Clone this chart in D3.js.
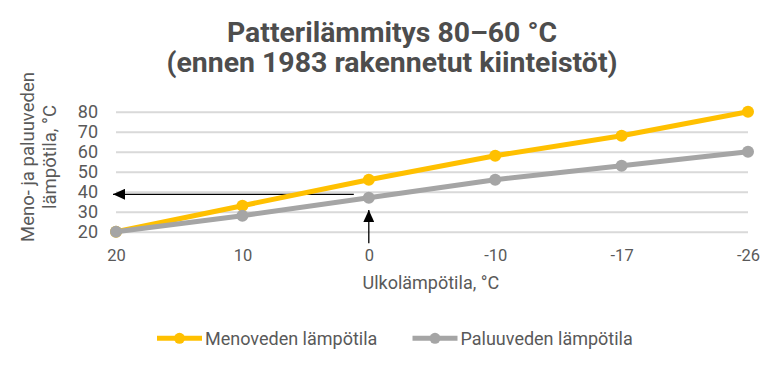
<!DOCTYPE html>
<html>
<head>
<meta charset="utf-8">
<script src="https://cdn.jsdelivr.net/npm/d3@7"></script>
<style>
  body { margin: 0; background: #fff; }
  #chart { width: 784px; height: 369px; }
  text { font-family: Roboto, "Open Sans", sans-serif; fill: #595959; }
</style>
</head>
<body>
<div id="chart"></div>
<script>

// ulkolämpötila (categories along x)
var outdoor = ["20", "10", "0", "-10", "-17", "-26"];
// menoveden ja paluuveden lämpötila
var supplyTemp = [20, 33, 46, 58, 68, 80];
var returnTemp = [20, 28, 37, 46, 53, 60];
var yTicks = [20, 30, 40, 50, 60, 70, 80];
var seriesNames = ["Menoveden lämpötila", "Paluuveden lämpötila"];
var seriesColors = ["#FFC000", "#A5A5A5"];

// arrow annotations (data units)
var arrowLevel = 38.7;
var arrowUpTo = 30.8;

LineChart = function(_parentElement){
  this.parentElement = _parentElement;
  this.initVis();
}

LineChart.prototype.initVis = function() {
  var vis = this;

  vis.margin = {top: 111.7, left: 116, bottom: 137.3, right: 36};
  vis.width = 784 - vis.margin.left - vis.margin.right;
  vis.height = 369 - vis.margin.top - vis.margin.bottom;

  vis.root = d3.select("#" + vis.parentElement).append("svg")
    .attr("width", 784)
    .attr("height", 369);

  vis.svg = vis.root.append("g")
    .attr("transform", "translate(" + vis.margin.left + "," + vis.margin.top + ")");

  vis.xScale = d3.scalePoint()
    .domain(outdoor)
    .range([0, vis.width]);

  vis.yScale = d3.scaleLinear()
    .domain([20, 80])
    .range([vis.height, 0]);

  vis.updateVis();
}

LineChart.prototype.updateVis = function() {
  var vis = this;

  // title
  var title = vis.root.append("g").attr("text-anchor", "middle");
  title.append("text")
    .attr("x", 392).attr("y", 41.7)
    .attr("textLength", 330).attr("lengthAdjust", "spacingAndGlyphs")
    .style("font-size", "27px").style("font-weight", "bold").style("fill", "#4d4d4d")
    .text("Patterilämmitys 80–60 °C");
  title.append("text")
    .attr("x", 392).attr("y", 71.7)
    .attr("textLength", 451).attr("lengthAdjust", "spacingAndGlyphs")
    .style("font-size", "27px").style("font-weight", "bold").style("fill", "#4d4d4d")
    .text("(ennen 1983 rakennetut kiinteistöt)");

  // y axis + gridlines
  var yAxis = vis.svg.append("g")
    .call(d3.axisLeft(vis.yScale).tickValues(yTicks).tickSize(-vis.width).tickPadding(18));
  yAxis.select(".domain").remove();
  yAxis.selectAll("line").attr("stroke", "#D9D9D9").attr("stroke-width", 2);
  yAxis.selectAll("text").style("font-size", "18px").style("fill", "#595959");

  // x axis
  var xAxis = vis.svg.append("g")
    .attr("transform", "translate(0," + vis.height + ")")
    .call(d3.axisBottom(vis.xScale).tickSize(0).tickPadding(18));
  xAxis.select(".domain").remove();
  xAxis.selectAll("text").style("font-size", "16.5px").style("fill", "#595959");

  // axis titles
  vis.svg.append("text")
    .attr("x", vis.xScale("0") + 62).attr("y", vis.height + 57.5)
    .attr("text-anchor", "middle")
    .style("font-size", "18px")
    .text("Ulkolämpötila, °C");

  var yTitle = vis.root.append("g")
    .attr("transform", "translate(0,157) rotate(-90)")
    .attr("text-anchor", "middle");
  yTitle.append("text").attr("x", 0).attr("y", 34).style("font-size", "18.5px").text("Meno- ja paluuveden");
  yTitle.append("text").attr("x", 0).attr("y", 56).style("font-size", "18.5px").text("lämpötila, °C");

  // arrows
  var defs = vis.root.append("defs");
  defs.append("marker")
    .attr("id", "arrowhead")
    .attr("viewBox", "0 0 12 11")
    .attr("refX", 12).attr("refY", 5.5)
    .attr("markerWidth", 12).attr("markerHeight", 11)
    .attr("markerUnits", "userSpaceOnUse")
    .attr("orient", "auto")
    .append("path")
    .attr("d", "M0,0 L12,5.5 L0,11 Z")
    .attr("fill", "#000");

  vis.svg.append("line")
    .attr("x1", vis.xScale("0") - 15).attr("y1", vis.yScale(arrowLevel))
    .attr("x2", vis.xScale("20") - 3).attr("y2", vis.yScale(arrowLevel))
    .attr("stroke", "#000").attr("stroke-width", 1.3)
    .attr("marker-end", "url(#arrowhead)");

  vis.svg.append("line")
    .attr("x1", vis.xScale("0")).attr("y1", vis.height + 11.5)
    .attr("x2", vis.xScale("0")).attr("y2", vis.yScale(arrowUpTo))
    .attr("stroke", "#000").attr("stroke-width", 1.3)
    .attr("marker-end", "url(#arrowhead)");

  // series (grey drawn last, it sits on top at 20)
  var series = [supplyTemp, returnTemp];
  var line = d3.line()
    .x((d, i) => vis.xScale(outdoor[i]))
    .y(d => vis.yScale(d));

  [0, 1].forEach(function(s) {
    vis.svg.append("path")
      .datum(series[s])
      .attr("d", line)
      .attr("fill", "none")
      .attr("stroke", seriesColors[s])
      .attr("stroke-width", 5)
      .attr("stroke-linejoin", "round");

    vis.svg.selectAll(".dot" + s)
      .data(series[s])
      .enter().append("circle")
      .attr("class", "dot" + s)
      .attr("cx", (d, i) => vis.xScale(outdoor[i]))
      .attr("cy", d => vis.yScale(d))
      .attr("r", 6)
      .attr("fill", seriesColors[s]);
  });

  // legend
  var legendX = [157, 412.5];
  seriesNames.forEach(function(name, s) {
    var g = vis.root.append("g").attr("transform", "translate(" + legendX[s] + ",338.3)");
    g.append("line")
      .attr("x1", 0).attr("x2", 45)
      .attr("stroke", seriesColors[s]).attr("stroke-width", 5);
    g.append("circle")
      .attr("cx", 22.5).attr("r", 5.5)
      .attr("fill", seriesColors[s]);
    g.append("text")
      .attr("x", 48).attr("y", 6.5)
      .style("font-size", "18px")
      .text(name);
  });
}

new LineChart("chart");

</script>
</body>
</html>
